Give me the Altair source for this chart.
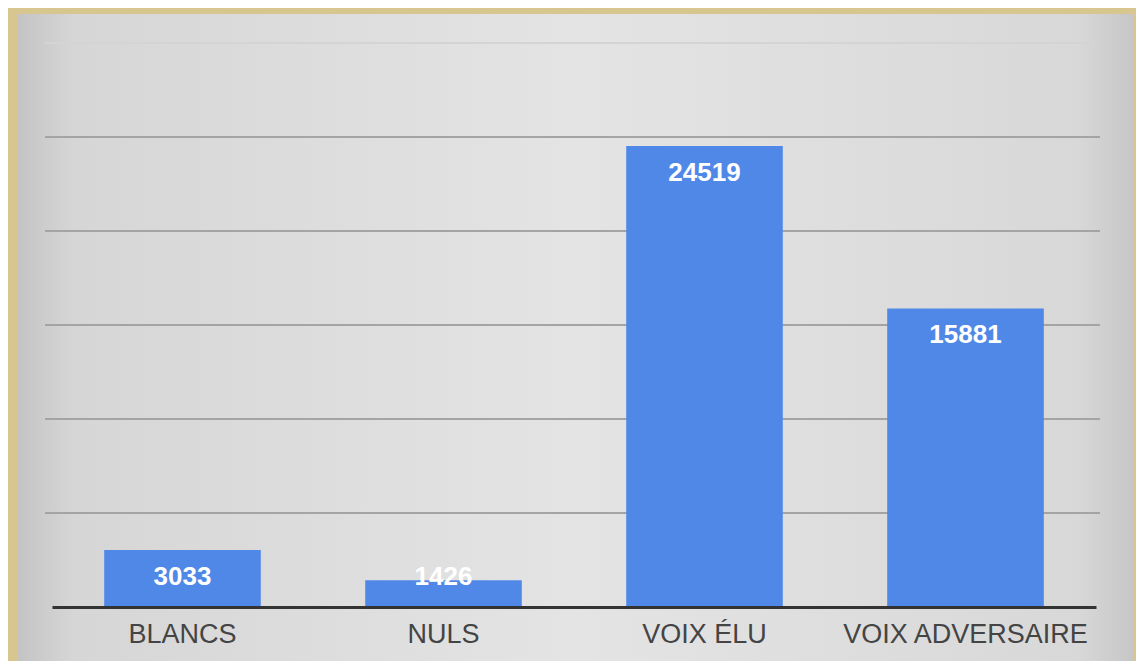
import altair as alt
import pandas as pd

categories = ["BLANCS", "NULS", "VOIX ÉLU", "VOIX ADVERSAIRE"]
values = [3033, 1426, 24519, 15881]
grid_values = [5000, 10000, 15000, 20000, 25000, 30000]
grid_shades = ["#a4a4a4", "#a4a4a4", "#a4a4a4", "#a4a4a4", "#a4a4a4", "#d4d4d4"]

df = pd.DataFrame({"cat": categories, "value": values})
gdf = pd.DataFrame({"g": grid_values, "shade": grid_shades})

y_scale = alt.Scale(domain=[0, 30000], nice=False)

panel = alt.Chart(df).mark_rect(
    color=alt.LinearGradient(
        gradient="linear", x1=0, y1=0, x2=1, y2=0,
        stops=[alt.GradientStop(offset=0, color="#c4c4c4"),
               alt.GradientStop(offset=0.05, color="#d6d6d6"),
               alt.GradientStop(offset=0.5, color="#e4e4e4"),
               alt.GradientStop(offset=0.95, color="#d8d8d8"),
               alt.GradientStop(offset=1, color="#c6c6c6")])
).encode(x=alt.value(-34), x2=alt.value(1082), y=alt.value(-29), y2=alt.value(640))

grid = alt.Chart(gdf).mark_rule(strokeWidth=2).encode(
    y=alt.Y("g:Q", scale=y_scale, axis=None),
    x=alt.value(-7), x2=alt.value(1048),
    color=alt.Color("shade:N", scale=None),
)

bars = alt.Chart(df).mark_bar(color="#5088E8").encode(
    x=alt.X("cat:N", sort=categories,
            scale=alt.Scale(paddingInner=0.4, paddingOuter=0.2),
            axis=alt.Axis(title=None, labelAngle=0, ticks=False, domain=True,
                          domainColor="#333333", domainWidth=3, zindex=1,
                          labelFont="Liberation Sans", labelFontSize=27,
                          labelLimit=0,
                          labelColor="#444444", labelPadding=14)),
    y=alt.Y("value:Q", scale=y_scale, axis=None),
)

labels = alt.Chart(df).transform_calculate(
    pos="max(datum.value, 3030)"
).mark_text(color="white", fontWeight="bold", font="Liberation Sans",
            fontSize=26, baseline="middle", dy=27).encode(
    x=alt.X("cat:N", sort=categories),
    y=alt.Y("pos:Q", scale=y_scale),
    text=alt.Text("value:Q", format="d"),
)

chart = alt.layer(panel, grid, bars, labels).properties(
    width=1044, height=564,
    autosize=alt.AutoSizeParams(type="none"),
    padding={"left": 44, "top": 35, "right": 40, "bottom": 54},
    background="#d8c690",
).configure_view(stroke=None)

chart.save("out.html", embed_options={"renderer": "svg", "actions": False})
